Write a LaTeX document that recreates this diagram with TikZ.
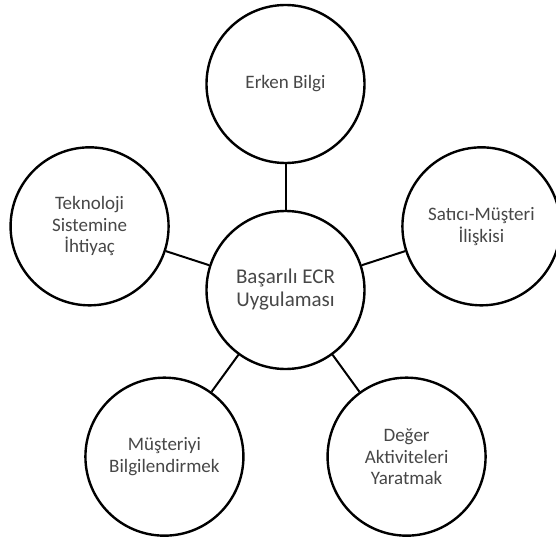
\documentclass[tikz,border=0pt]{standalone}
\usepackage{fontspec}
\setmainfont{Carlito}
\usetikzlibrary{calc}
\begin{document}
\begin{tikzpicture}[x=1pt,y=1pt,
  bubble/.style={circle,draw=black,line width=2.4pt,fill=white,minimum size=158pt,
    inner sep=0pt,align=center,text=black!72,font=\fontsize{19}{21.5}\selectfont},
  hub/.style={bubble,font=\fontsize{21}{23}\selectfont},
  link/.style={draw=black,line width=2pt}]
\useasboundingbox (0,0) rectangle (556,542);
\clip (0,0) rectangle (556,542);
\coordinate (o) at (285.5,252);
\node[hub] (c) at (o) {Başarılı ECR\\Uygulaması};
\node[bubble] (top) at ($(o)+(90:206)$) {Erken Bilgi};
\node[bubble] (right) at ($(o)+(18:206)$) {Satıcı-Müşteri\\İlişkisi};
\node[bubble] (br) at ($(o)+(-54:206)$) {Değer\\Aktiviteleri\\Yaratmak};
\node[bubble] (bl) at ($(o)+(-126:206)$) {Müşteriyi\\Bilgilendirmek};
\node[bubble] (left) at ($(o)+(162:206)$) {Teknoloji\\Sistemine\\İhtiyaç};
\foreach \n in {top,right,br,bl,left}
  \draw[link] (c) -- (\n);
\end{tikzpicture}
\end{document}
